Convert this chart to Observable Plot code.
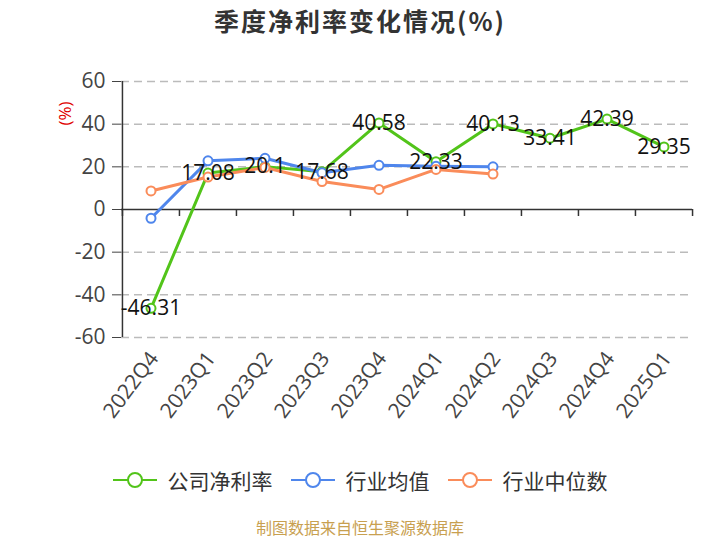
<!DOCTYPE html>
<html><head><meta charset="utf-8">
<script src="https://cdn.jsdelivr.net/npm/d3@7"></script>
<script src="https://cdn.jsdelivr.net/npm/@observablehq/plot@0.6"></script>
<style>
body{margin:0;background:#fff;font-family:"Open Sans","Noto Sans CJK SC",sans-serif;}
#wrap{position:relative;width:720px;height:540px;overflow:hidden;background:#fff}
#title{position:absolute;left:0;top:0;width:720px;text-align:center;font-size:25px;font-weight:bold;line-height:40px;color:#333;font-family:"Noto Sans CJK SC",sans-serif;letter-spacing:2px}
#chart{position:absolute;left:0;top:45px}
#legend{position:absolute;left:0;top:466px;width:720px;height:28px;display:flex;justify-content:center;align-items:center;font-size:21px;color:#333;font-family:"Noto Sans CJK SC",sans-serif}
.item{display:flex;align-items:center;margin:0 9px}
.item svg{margin-right:11px}
#footer{position:absolute;top:517px;left:0;width:720px;text-align:center;font-size:16px;color:#c8a050;line-height:20px;font-family:"Noto Sans CJK SC",sans-serif}
</style></head>
<body>
<div id="wrap">
  <div id="title">季度净利率变化情况(%)</div>
  <div id="chart"></div>
  <div id="legend"></div>
  <div id="footer">制图数据来自恒生聚源数据库</div>
</div>
<script>
const quarters = ["2022Q4","2023Q1","2023Q2","2023Q3","2023Q4","2024Q1","2024Q2","2024Q3","2024Q4","2025Q1"];
const companyNetMargin = [-46.31,17.08,20.1,17.68,40.58,22.33,40.13,33.41,42.39,29.35];
const industryMean = [-4.1,22.8,24.0,17.2,20.7,20.3,20.0,null,null,null];
const industryMedian = [8.7,15.2,19.7,13.1,9.4,18.8,16.6,null,null,null];
const yTicks = [-60,-40,-20,0,20,40,60];
const seriesNames = ["公司净利率","行业均值","行业中位数"];
const seriesColors = ["#52c41a","#4f86ec","#fa8c5a"];
const seriesValues = [companyNetMargin, industryMean, industryMedian];

const W = 720, H = 392, mL = 121, mR = 28, mT = 36, mB = 100;
const bw = (W - mL - mR) / quarters.length;

const rows = seriesValues.map(vals => quarters.map((q, i) => ({q, v: vals[i]})).filter(d => d.v != null));

const seriesMarks = [];
rows.forEach((data, k) => {
  seriesMarks.push(Plot.line(data, {x: "q", y: "v", stroke: seriesColors[k], strokeWidth: 3}));
  seriesMarks.push(Plot.dot(data, {x: "q", y: "v", stroke: seriesColors[k], fill: "white", r: 4.5, strokeWidth: 2}));
});

const chart = Plot.plot({
  width: W, height: H,
  marginLeft: mL, marginRight: mR, marginTop: mT, marginBottom: mB,
  x: {type: "band", domain: quarters, padding: 0, axis: null},
  y: {domain: [-60, 60], axis: null},
  style: {fontFamily: "'Open Sans','Noto Sans CJK SC',sans-serif", background: "white", overflow: "visible"},
  marks: [
    Plot.ruleY(yTicks.filter(t => t !== 0), {stroke: "#bbb", strokeWidth: 1.5, strokeDasharray: "8,5"}),
    Plot.axisY({ticks: yTicks, tickFormat: d => String(d), label: null, tickSize: 9, tickPadding: 7, fontSize: 21, color: "#444"}),
    Plot.ruleY([0], {stroke: "#333", strokeWidth: 1.5}),
    Plot.ruleX([quarters[0]], {x: d => d, dx: -bw / 2, y1: -60, y2: 60, stroke: "#333", strokeWidth: 1.5}),
    Plot.ruleX(quarters, {x: d => d, dx: -bw / 2, y1: 0, y2: 0, insetBottom: -7, stroke: "#333", strokeWidth: 1.5}),
    Plot.ruleX([quarters[quarters.length - 1]], {x: d => d, dx: bw / 2, y1: 0, y2: 0, insetBottom: -7, stroke: "#333", strokeWidth: 1.5}),
    Plot.text(quarters, {x: d => d, frameAnchor: "bottom", dy: 17, dx: 3, rotate: -53, textAnchor: "end", lineAnchor: "middle", fontSize: 21, fill: "#444"}),
    ...seriesMarks,
    Plot.text(rows[0], {x: "q", y: "v", text: d => String(d.v), fontSize: 21, fill: "#111"}),
    Plot.text(["(%)"], {frameAnchor: "top-left", dx: -56, dy: 32, rotate: -90, fontSize: 17, fill: "#e00000", textAnchor: "middle", lineAnchor: "middle"})
  ]
});
document.getElementById("chart").appendChild(chart);

const legend = document.getElementById("legend");
seriesNames.forEach((name, k) => {
  const item = document.createElement("div");
  item.className = "item";
  item.innerHTML = `<svg width="44" height="20"><line x1="0" y1="10" x2="44" y2="10" stroke="${seriesColors[k]}" stroke-width="2"/><circle cx="22" cy="10" r="7" fill="white" stroke="${seriesColors[k]}" stroke-width="2"/></svg><span>${name}</span>`;
  legend.appendChild(item);
});
</script>
</body></html>
